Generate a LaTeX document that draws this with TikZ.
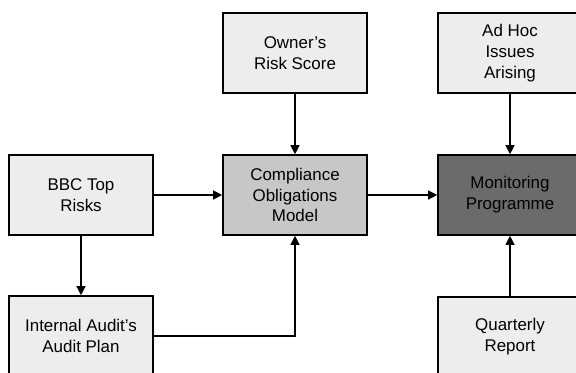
\documentclass[tikz,border=0pt]{standalone}
\usepackage{fontspec}
\setmainfont{Liberation Sans}
\usetikzlibrary{arrows.meta}
\begin{document}
\begin{tikzpicture}[x=1bp,y=-1bp,
        box/.style={draw, line width=1.6bp, fill=black!7, minimum width=144bp, minimum height=80bp,
                    align=center, font=\fontsize{17}{21}\selectfont, inner sep=0pt},
        link/.style={line width=1.2bp, -{Triangle[length=9bp,width=9bp]}}]
        \useasboundingbox (0,0) rectangle (576,372);

        \node[box] (Owner) at (295,53) {Owner’s\\Risk Score};
        \node[box] (AdHoc) at (510,53) {Ad Hoc\\Issues\\Arising};

        \node[box] (BBC) at (81,195) {BBC Top\\Risks};
        \node[box, fill=black!22] (Compliance) at (295,195) {Compliance\\Obligations\\Model};
        \node[box, fill=black!58] (Monitoring) at (510,195) {Monitoring\\Programme};

        \node[box] (Audit) at (81,336) {Internal Audit’s\\Audit Plan};
        \node[box] (Quarterly) at (510,337) {Quarterly\\Report};

        \draw[link] (Owner) -- (Compliance);
        \draw[link] (AdHoc) -- (Monitoring);
        \draw[link] (BBC) -- (Compliance);
        \draw[link] (Compliance) -- (Monitoring);
        \draw[link] (BBC) -- (Audit);
        \draw[link] (Audit.east) -| (Compliance.south);
        \draw[link] (Quarterly) -- (Monitoring);
    \end{tikzpicture}
\end{document}
